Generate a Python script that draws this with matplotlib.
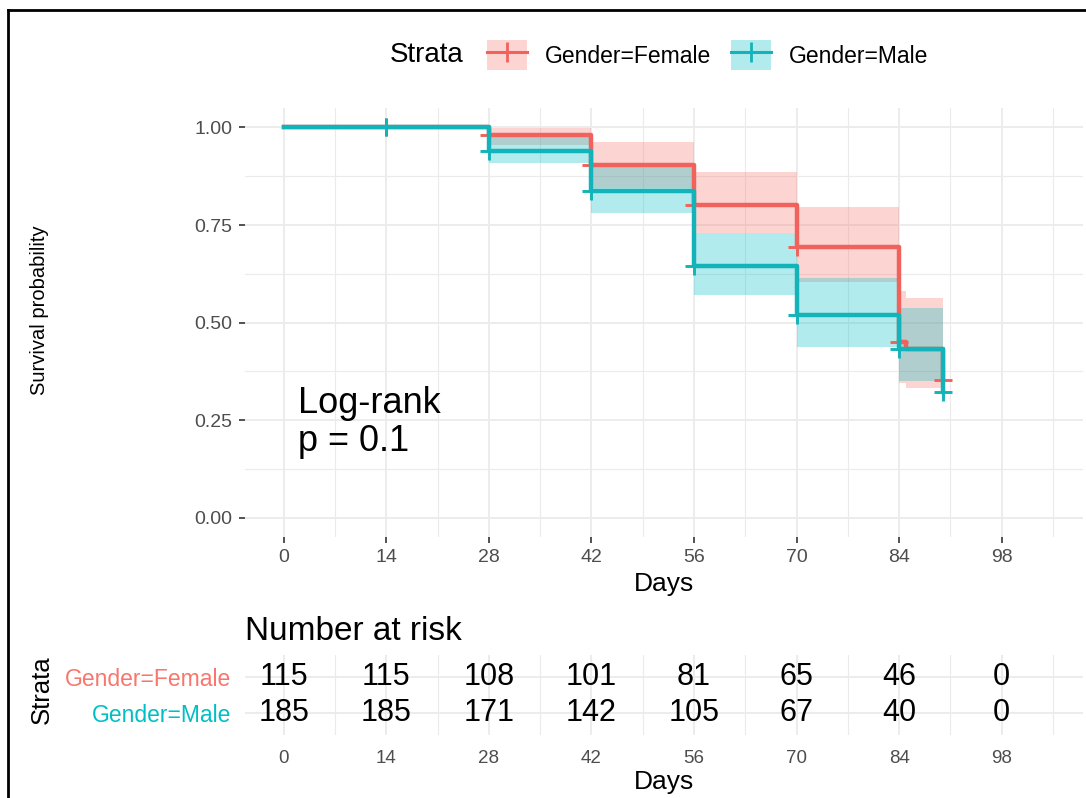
import numpy as np
import matplotlib
matplotlib.use('Agg')
import matplotlib.pyplot as plt
from matplotlib.lines import Line2D
from matplotlib.patches import Patch
from matplotlib.legend_handler import HandlerTuple

plt.rcParams['font.family'] = ['Liberation Sans', 'DejaVu Sans']

# data
strata = ['Gender=Female', 'Gender=Male']

fem_time = [0, 28, 42, 56, 70, 84, 85, 90]
fem_surv = [1.0, 0.98, 0.903, 0.80, 0.693, 0.45, 0.433, 0.352]
fem_upper = [1.0, 1.0, 0.962, 0.885, 0.795, 0.58, 0.563, 0.563]
fem_lower = [1.0, 0.955, 0.846, 0.729, 0.605, 0.345, 0.333, 0.333]
fem_cens_t = [14, 28, 42, 56, 70, 84, 90]
fem_cens_s = [1.0, 0.98, 0.903, 0.80, 0.693, 0.45, 0.352]

male_time = [0, 28, 42, 56, 70, 84, 90]
male_surv = [1.0, 0.941, 0.836, 0.644, 0.52, 0.433, 0.322]
male_upper = [1.0, 0.975, 0.898, 0.73, 0.615, 0.537, 0.537]
male_lower = [1.0, 0.91, 0.78, 0.57, 0.437, 0.35, 0.35]
male_cens_t = [14, 28, 42, 56, 70, 84, 90]
male_cens_s = [1.0, 0.941, 0.836, 0.644, 0.52, 0.433, 0.322]

risk_times = [0, 14, 28, 42, 56, 70, 84, 98]
risk_female = [115, 115, 108, 101, 81, 65, 46, 0]
risk_male = [185, 185, 171, 142, 105, 67, 40, 0]

x_ticks = [0, 14, 28, 42, 56, 70, 84, 98]
x_minor = [7, 21, 35, 49, 63, 77, 91, 105]
y_ticks = [0, 0.25, 0.5, 0.75, 1.0]
y_ticklabels = ['0.00', '0.25', '0.50', '0.75', '1.00']

red = '#F8766D'
teal = '#00BFC4'
red_line = '#F2625C'
teal_line = '#12B4B9'
grid_c = '#EBEBEB'
tick_c = '#4D4D4D'

W, H = 1086, 798
fig = plt.figure(figsize=(W / 100, H / 100), dpi=100)
ax = fig.add_axes([245 / W, 1 - 537 / H, 838 / W, 429 / H])
ax_r = fig.add_axes([245 / W, 1 - 735 / H, 838 / W, 80 / H])

xlim = (-5.3, 109.1)

# ---- survival curves
ax.fill_between(fem_time, fem_lower, fem_upper, step='post', color=red, alpha=0.3, lw=0)
ax.fill_between(male_time, male_lower, male_upper, step='post', color=teal, alpha=0.3, lw=0)
ax.step(fem_time, fem_surv, where='post', color=red_line, lw=3.2)
ax.plot(fem_cens_t, fem_cens_s, ls='none', marker='+', ms=13, mew=2.1, color=red_line)
ax.step(male_time, male_surv, where='post', color=teal_line, lw=3.2)
ax.plot(male_cens_t, male_cens_s, ls='none', marker='+', ms=13, mew=2.1, color=teal_line)

ax.text(2, 0.243, 'Log-rank\np = 0.1', fontsize=26, ha='left', va='center', linespacing=1.12)

ax.set_xlim(xlim)
ax.set_ylim(-0.05, 1.05)
ax.set_xticks(x_ticks)
ax.set_xticks(x_minor, minor=True)
ax.set_yticks(y_ticks)
ax.set_yticklabels(y_ticklabels)
ax.set_yticks([0.125, 0.375, 0.625, 0.875], minor=True)
ax.grid(which='major', color=grid_c, lw=1.3)
ax.grid(which='minor', color=grid_c, lw=0.8)
ax.set_axisbelow(True)
for s in ax.spines.values():
    s.set_visible(False)
ax.tick_params(which='major', length=4, width=1.2, color='#333333', labelsize=14,
               labelcolor=tick_c, pad=5)
ax.tick_params(which='minor', length=0)
ax.set_xlabel('Days', fontsize=19, labelpad=4)
fig.text(40 / W, 1 - 310 / H, 'Survival probability', rotation=90, fontsize=14.5,
         ha='center', va='center')

# ---- legend
handles = [
    (Patch(facecolor=red, alpha=0.3, lw=0), Line2D([], [], color=red_line, lw=2.2, marker='+', ms=15, mew=2)),
    (Patch(facecolor=teal, alpha=0.3, lw=0), Line2D([], [], color=teal_line, lw=2.2, marker='+', ms=15, mew=2)),
]
fs_leg = 16.5
fig.legend(handles, strata, handler_map={tuple: HandlerTuple(ndivide=1)},
           loc='center left', bbox_to_anchor=(487 / W, 1 - 55 / H), ncol=2,
           frameon=False, fontsize=fs_leg, numpoints=1, handlelength=40 / (fs_leg * 1.389),
           handleheight=36 / (fs_leg * 1.389), handletextpad=18 / (fs_leg * 1.389),
           columnspacing=20 / (fs_leg * 1.389), borderpad=0, borderaxespad=0)
fig.text(390 / W, 1 - 55 / H, 'Strata', fontsize=20, ha='left', va='center')

# ---- risk table
for t, nf, nm in zip(risk_times, risk_female, risk_male):
    ax_r.text(t, 2, str(nf), fontsize=22, ha='center', va='center')
    ax_r.text(t, 1, str(nm), fontsize=22, ha='center', va='center')
ax_r.set_xlim(xlim)
ax_r.set_ylim(0.4, 2.6)
ax_r.set_xticks(x_ticks)
ax_r.set_xticks(x_minor, minor=True)
ax_r.set_yticks([2, 1])
ax_r.set_yticklabels(strata, fontsize=16.5)
for lbl, c in zip(ax_r.get_yticklabels(), [red, teal]):
    lbl.set_color(c)
ax_r.grid(which='major', color=grid_c, lw=1.3)
ax_r.grid(which='minor', axis='x', color=grid_c, lw=0.8)
ax_r.set_axisbelow(True)
for s in ax_r.spines.values():
    s.set_visible(False)
ax_r.tick_params(axis='x', which='major', length=0, labelsize=13.5, labelcolor=tick_c, pad=11)
ax_r.tick_params(axis='y', length=0, pad=10)
ax_r.tick_params(which='minor', length=0)
ax_r.set_xlabel('Days', fontsize=19, labelpad=2)
ax_r.set_title('Number at risk', loc='left', fontsize=24, pad=11)
fig.text(42 / W, 1 - 690 / H, 'Strata', rotation=90, fontsize=18.5, ha='center', va='center')

# frame seen at top and left edge of the screenshot
fig.add_artist(Line2D([8 / W, 1], [1 - 10 / H, 1 - 10 / H], transform=fig.transFigure, color='black', lw=2))
fig.add_artist(Line2D([8 / W, 8 / W], [0, 1 - 10 / H], transform=fig.transFigure, color='black', lw=2))

fig.savefig('out.png', dpi=100)
